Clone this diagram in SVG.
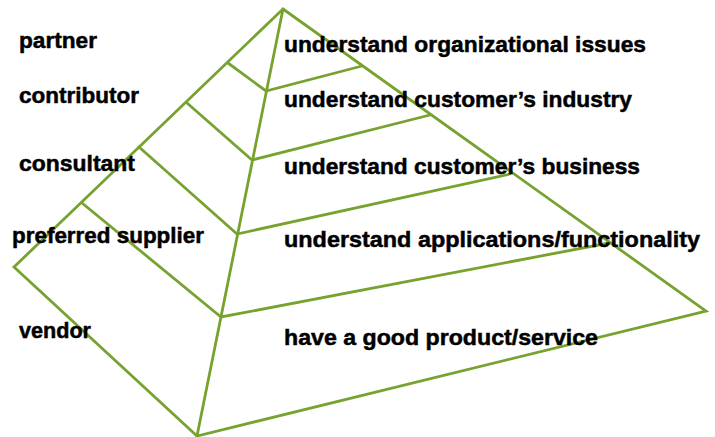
<svg xmlns="http://www.w3.org/2000/svg" width="715" height="437" viewBox="0 0 715 437">
<style>
.ln{fill:none;stroke:#78a22f;stroke-width:2.8;stroke-linejoin:miter;stroke-linecap:round}
.t{font-family:"Liberation Sans",Arial,sans-serif;font-weight:bold;font-size:22.5px;fill:#000;stroke:#000;stroke-width:0.5}
</style>
<rect width="715" height="437" fill="#fff"/>
<g id="pyramid">
<path class="ln" d="M283,9 L706,311 L197,436 L14,267 Z"/>
<path class="ln" d="M283,9 L197,436"/>
</g>
<g id="connectors">
<path class="ln" d="M228,63 L266,91 L362,66"/>
<path class="ln" d="M187,103 L252,160 L430,115"/>
<path class="ln" d="M139,147 L237,234 L510,174"/>
<path class="ln" d="M82,203 L221,317 L609,243"/>
</g>
<g id="level-partner"><text class="t" x="19" y="48" textLength="78" lengthAdjust="spacingAndGlyphs">partner</text></g>
<g id="level-contributor"><text class="t" x="19" y="103" textLength="120" lengthAdjust="spacingAndGlyphs">contributor</text></g>
<g id="level-consultant"><text class="t" x="19" y="171" textLength="116" lengthAdjust="spacingAndGlyphs">consultant</text></g>
<g id="level-preferred"><text class="t" x="12" y="243" textLength="192" lengthAdjust="spacingAndGlyphs">preferred supplier</text></g>
<g id="level-vendor"><text class="t" x="19" y="338" textLength="72" lengthAdjust="spacingAndGlyphs">vendor</text></g>
<g id="desc-1"><text class="t" x="284" y="52" textLength="362" lengthAdjust="spacingAndGlyphs">understand organizational issues</text></g>
<g id="desc-2"><text class="t" x="284" y="107" textLength="348" lengthAdjust="spacingAndGlyphs">understand customer’s industry</text></g>
<g id="desc-3"><text class="t" x="284" y="174" textLength="356" lengthAdjust="spacingAndGlyphs">understand customer’s business</text></g>
<g id="desc-4"><text class="t" x="284" y="247" textLength="416" lengthAdjust="spacingAndGlyphs">understand applications/functionality</text></g>
<g id="desc-5"><text class="t" x="284" y="345" textLength="314" lengthAdjust="spacingAndGlyphs">have a good product/service</text></g>
</svg>
